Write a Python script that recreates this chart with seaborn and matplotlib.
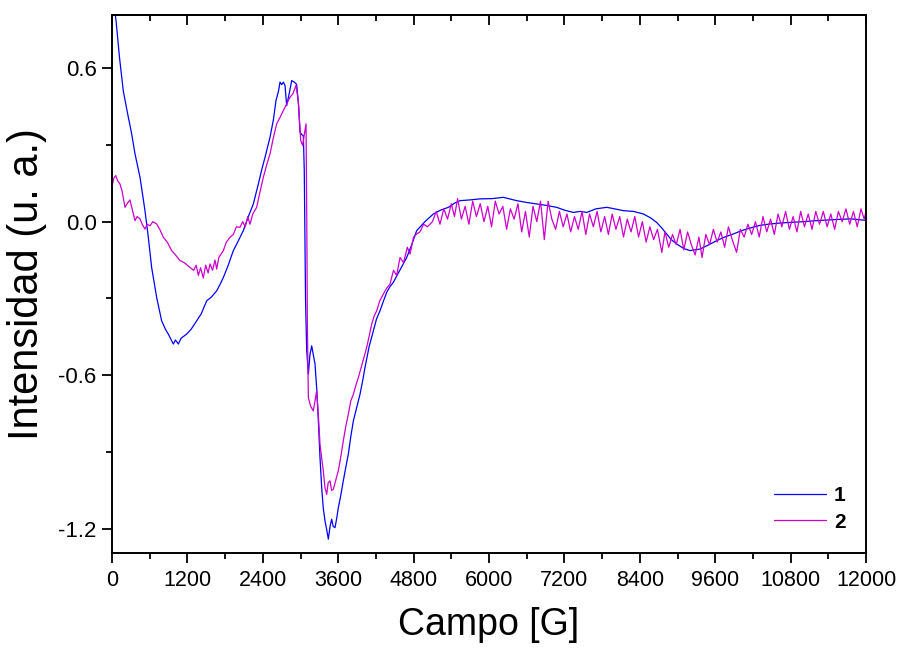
import pandas as pd
import seaborn as sns
import matplotlib.pyplot as plt
from matplotlib.ticker import MultipleLocator, FixedLocator, NullFormatter

# Serie 1 (azul): campo [G] e intensidad (u. a.)
campo_1 = [0, 64, 120, 180, 250, 313, 366, 446, 525, 578, 631, 711, 790, 850, 896, 940,
           976, 1010, 1056, 1100, 1188, 1260, 1347, 1420, 1507, 1580, 1666, 1720, 1772,
           1850, 1931, 2010, 2090, 2170, 2249, 2329, 2380, 2435, 2515, 2570, 2610, 2650,
           2674, 2700, 2727, 2753, 2780, 2820, 2860, 2900, 2939, 2970, 2992, 3020, 3045,
           3060, 3080, 3098, 3125, 3150, 3178, 3205, 3231, 3260, 3284, 3310, 3337, 3363,
           3390, 3415, 3443, 3470, 3496, 3520, 3549, 3575, 3602, 3640, 3681, 3720, 3761,
           3800, 3841, 3890, 3947, 3990, 4026, 4090, 4159, 4210, 4265, 4320, 4372, 4420,
           4477, 4580, 4690, 4770, 4849, 4980, 5114, 5230, 5353, 5450, 5538, 5700, 5857,
           6050, 6228, 6441, 6600, 6759, 6900, 7077, 7200, 7342, 7450, 7555, 7700, 7873,
           8000, 8138, 8300, 8456, 8570, 8668, 8750, 8827, 8900, 8986, 9100, 9199, 9280,
           9358, 9500, 9624, 9750, 9888, 10020, 10154, 10300, 10472, 10650, 10790, 11000,
           11215, 11500, 11756, 12000]
int_1 = [0.90, 0.786, 0.64, 0.510, 0.42, 0.343, 0.265, 0.173, 0.043, -0.061, -0.179, -0.296,
         -0.387, -0.42, -0.439, -0.46, -0.478, -0.462, -0.478, -0.455, -0.439, -0.42, -0.387,
         -0.36, -0.309, -0.295, -0.270, -0.245, -0.218, -0.17, -0.113, -0.075, -0.035, 0.02,
         0.069, 0.147, 0.20, 0.251, 0.330, 0.40, 0.473, 0.51, 0.545, 0.535, 0.545, 0.532,
         0.453, 0.50, 0.551, 0.545, 0.536, 0.45, 0.349, 0.34, 0.336, 0.20, -0.30, -0.50,
         -0.595, -0.52, -0.485, -0.52, -0.556, -0.66, -0.778, -0.92, -1.039, -1.12, -1.169,
         -1.20, -1.240, -1.19, -1.162, -1.19, -1.195, -1.16, -1.117, -1.07, -1.012, -0.96,
         -0.908, -0.84, -0.778, -0.73, -0.674, -0.62, -0.570, -0.49, -0.426, -0.38, -0.348,
         -0.31, -0.276, -0.255, -0.237, -0.19, -0.140, -0.09, -0.035, 0.0, 0.030, 0.045,
         0.056, 0.072, 0.082, 0.085, 0.089, 0.090, 0.095, 0.082, 0.075, 0.069, 0.064, 0.056,
         0.045, 0.036, 0.040, 0.036, 0.050, 0.056, 0.050, 0.043, 0.040, 0.030, 0.015, -0.003,
         -0.025, -0.048, -0.070, -0.087, -0.105, -0.113, -0.110, -0.107, -0.090, -0.074,
         -0.060, -0.048, -0.035, -0.025, -0.015, -0.009, -0.005, -0.003, 0.0, 0.004, 0.008,
         0.011, 0.005]

# Serie 2 (magenta)
campo_2 = [0, 30, 60, 90, 127, 160, 207, 240, 286, 320, 366, 400, 446, 480, 525, 560, 605,
           650, 711, 760, 817, 880, 950, 1010, 1082, 1150, 1241, 1300, 1340, 1374, 1410,
           1453, 1490, 1530, 1560, 1600, 1640, 1666, 1700, 1772, 1820, 1878, 1930, 1980,
           2037, 2080, 2120, 2160, 2196, 2240, 2302, 2350, 2408, 2460, 2515, 2570, 2621,
           2680, 2727, 2780, 2833, 2880, 2928, 2965, 3003, 3035, 3060, 3088, 3100, 3109,
           3125, 3160, 3204, 3230, 3257, 3285, 3310, 3340, 3363, 3390, 3417, 3440, 3470,
           3495, 3523, 3560, 3602, 3640, 3681, 3720, 3761, 3800, 3841, 3880, 3920, 3973,
           4010, 4053, 4090, 4133, 4170, 4212, 4260, 4318, 4370, 4424, 4480, 4530, 4584,
           4640, 4700, 4743, 4800, 4849, 4900, 4960, 5020, 5100, 5160, 5220, 5280, 5340,
           5400, 5450, 5500, 5560, 5620, 5680, 5740, 5800, 5860, 5920, 5980, 6040, 6100,
           6160, 6220, 6280, 6340, 6400, 6460, 6520, 6580, 6640, 6700, 6760, 6820, 6880,
           6940, 7000, 7060, 7120, 7180, 7240, 7300, 7360, 7420, 7480, 7540, 7600, 7660,
           7720, 7780, 7840, 7900, 7960, 8020, 8080, 8140, 8200, 8260, 8320, 8380, 8440,
           8500, 8560, 8620, 8680, 8750, 8800, 8860, 8920, 8980, 9040, 9100, 9160, 9220,
           9280, 9340, 9390, 9450, 9510, 9570, 9630, 9690, 9750, 9810, 9870, 9940, 10000,
           10060, 10120, 10180, 10240, 10300, 10360, 10420, 10480, 10540, 10600, 10660,
           10720, 10780, 10840, 10900, 10960, 11020, 11080, 11140, 11200, 11260, 11320,
           11380, 11440, 11500, 11560, 11620, 11680, 11740, 11800, 11860, 11920, 11970, 12000]
int_2 = [0.14, 0.17, 0.18, 0.16, 0.147, 0.12, 0.056, 0.07, 0.085, 0.05, 0.004, 0.02, 0.011,
         -0.01, -0.029, -0.01, -0.016, 0.0, -0.009, -0.03, -0.061, -0.08, -0.113, -0.13,
         -0.152, -0.16, -0.179, -0.19, -0.17, -0.21, -0.18, -0.22, -0.17, -0.20, -0.165,
         -0.19, -0.15, -0.185, -0.14, -0.113, -0.08, -0.061, -0.05, -0.02, -0.022, 0.0,
         -0.02, 0.02, -0.01, 0.03, 0.056, 0.11, 0.173, 0.22, 0.265, 0.33, 0.382, 0.41, 0.434,
         0.46, 0.486, 0.50, 0.532, 0.473, 0.317, 0.297, 0.34, 0.382, 0.0, -0.40, -0.687,
         -0.72, -0.739, -0.70, -0.661, -0.76, -0.869, -0.93, -0.973, -1.04, -1.065, -1.02,
         -1.012, -1.05, -1.045, -1.01, -0.973, -0.92, -0.856, -0.80, -0.752, -0.70, -0.674,
         -0.64, -0.609, -0.563, -0.53, -0.491, -0.45, -0.400, -0.37, -0.348, -0.31, -0.283,
         -0.26, -0.244, -0.19, -0.21, -0.14, -0.16, -0.10, -0.126, -0.06, -0.048, -0.04,
         -0.01, -0.02, 0.00, 0.04, -0.01, 0.05, 0.01, 0.07, 0.02, 0.09, 0.01, 0.06, -0.01,
         0.08, 0.02, 0.07, 0.00, 0.06, -0.02, 0.08, 0.03, 0.06, -0.03, 0.05, 0.01, 0.07,
         -0.04, 0.04, -0.06, 0.06, 0.00, 0.08, -0.07, 0.08, 0.01, -0.03, 0.04, -0.02, 0.03,
         -0.04, 0.02, -0.03, 0.04, -0.05, 0.03, -0.02, 0.04, -0.04, 0.02, -0.05, 0.03, -0.03,
         0.02, -0.06, 0.01, -0.04, 0.02, -0.06, 0.00, -0.08, -0.02, -0.07, -0.03, -0.12,
         -0.04, -0.10, -0.05, -0.09, -0.03, -0.11, -0.04, -0.09, -0.13, -0.06, -0.14, -0.05,
         -0.09, -0.03, -0.08, -0.04, -0.10, -0.02, -0.07, -0.12, -0.03, -0.06, -0.01, -0.05,
         0.00, -0.06, 0.02, -0.04, 0.01, -0.05, 0.03, -0.02, 0.04, -0.03, 0.02, -0.04, 0.04,
         -0.02, 0.03, -0.03, 0.04, -0.01, 0.04, -0.02, 0.03, -0.03, 0.04, 0.00, 0.05, -0.01,
         0.04, -0.02, 0.05, 0.01, 0.04]

series_labels = ['1', '2']
colores = {'1': '#0000FF', '2': '#CC00CC'}

x_ticks = [0, 1200, 2400, 3600, 4800, 6000, 7200, 8400, 9600, 10800, 12000]
y_ticks = [-1.2, -0.6, 0.0, 0.6]
y_tick_labels = ['-1.2', '-0.6', '0.0', '0.6']

df = pd.concat([
    pd.DataFrame({'campo': campo_1, 'intensidad': int_1, 'serie': series_labels[0]}),
    pd.DataFrame({'campo': campo_2, 'intensidad': int_2, 'serie': series_labels[1]}),
])

sns.set_style('white')
plt.rcParams['font.family'] = ['Liberation Sans', 'DejaVu Sans']
plt.rcParams['axes.unicode_minus'] = False
plt.rcParams['text.color'] = 'black'
plt.rcParams['axes.labelcolor'] = 'black'
plt.rcParams['xtick.color'] = 'black'
plt.rcParams['ytick.color'] = 'black'

fig = plt.figure(figsize=(9.01, 6.5), dpi=100)
ax = fig.add_axes([0.1243, 0.1492, 0.8369, 0.8277])

sns.lineplot(data=df, x='campo', y='intensidad', hue='serie', palette=colores,
             estimator=None, sort=False, linewidth=0.9, ax=ax)

ax.set_xlim(0, 12000)
ax.set_ylim(-1.294, 0.807)

ax.xaxis.set_major_locator(FixedLocator(x_ticks))
ax.xaxis.set_minor_locator(MultipleLocator(600))
ax.set_yticks(y_ticks)
ax.set_yticklabels(y_tick_labels)
ax.yaxis.set_minor_locator(MultipleLocator(0.3))
ax.set_xticklabels([str(t) for t in x_ticks], fontsize=15.5)

ax.tick_params(axis='x', which='major', direction='out', length=7, width=1.3,
               top=False, bottom=True, pad=5)
ax.tick_params(axis='x', which='minor', direction='out', length=4, width=1.3,
               top=False, bottom=True)
ax.tick_params(axis='y', which='major', direction='out', length=7, width=1.3,
               left=True, right=False, labelsize=16, pad=4)
ax.tick_params(axis='y', which='minor', direction='out', length=4, width=1.3,
               left=True, right=False)

# ticks hacia adentro en el borde superior
top = ax.secondary_xaxis('top')
top.xaxis.set_major_locator(FixedLocator(x_ticks))
top.xaxis.set_minor_locator(MultipleLocator(600))
top.xaxis.set_major_formatter(NullFormatter())
top.tick_params(axis='x', which='major', direction='in', length=7, width=1.3)
top.tick_params(axis='x', which='minor', direction='in', length=4, width=1.3)
top.spines['top'].set_linewidth(1.4)

for s in ax.spines.values():
    s.set_color('black')
    s.set_linewidth(1.4)

ax.set_xlabel('Campo [G]', fontsize=27, labelpad=12)
ax.set_ylabel('Intensidad (u. a.)', fontsize=30, labelpad=8)

handles, labels = ax.get_legend_handles_labels()
leg = ax.legend(handles, labels, loc='lower right', bbox_to_anchor=(0.998, 0.005),
                frameon=False, prop={'weight': 'bold', 'size': 15},
                handlelength=2.5, handletextpad=0.4, labelspacing=0.35)

fig.savefig('out.png', dpi=100)
